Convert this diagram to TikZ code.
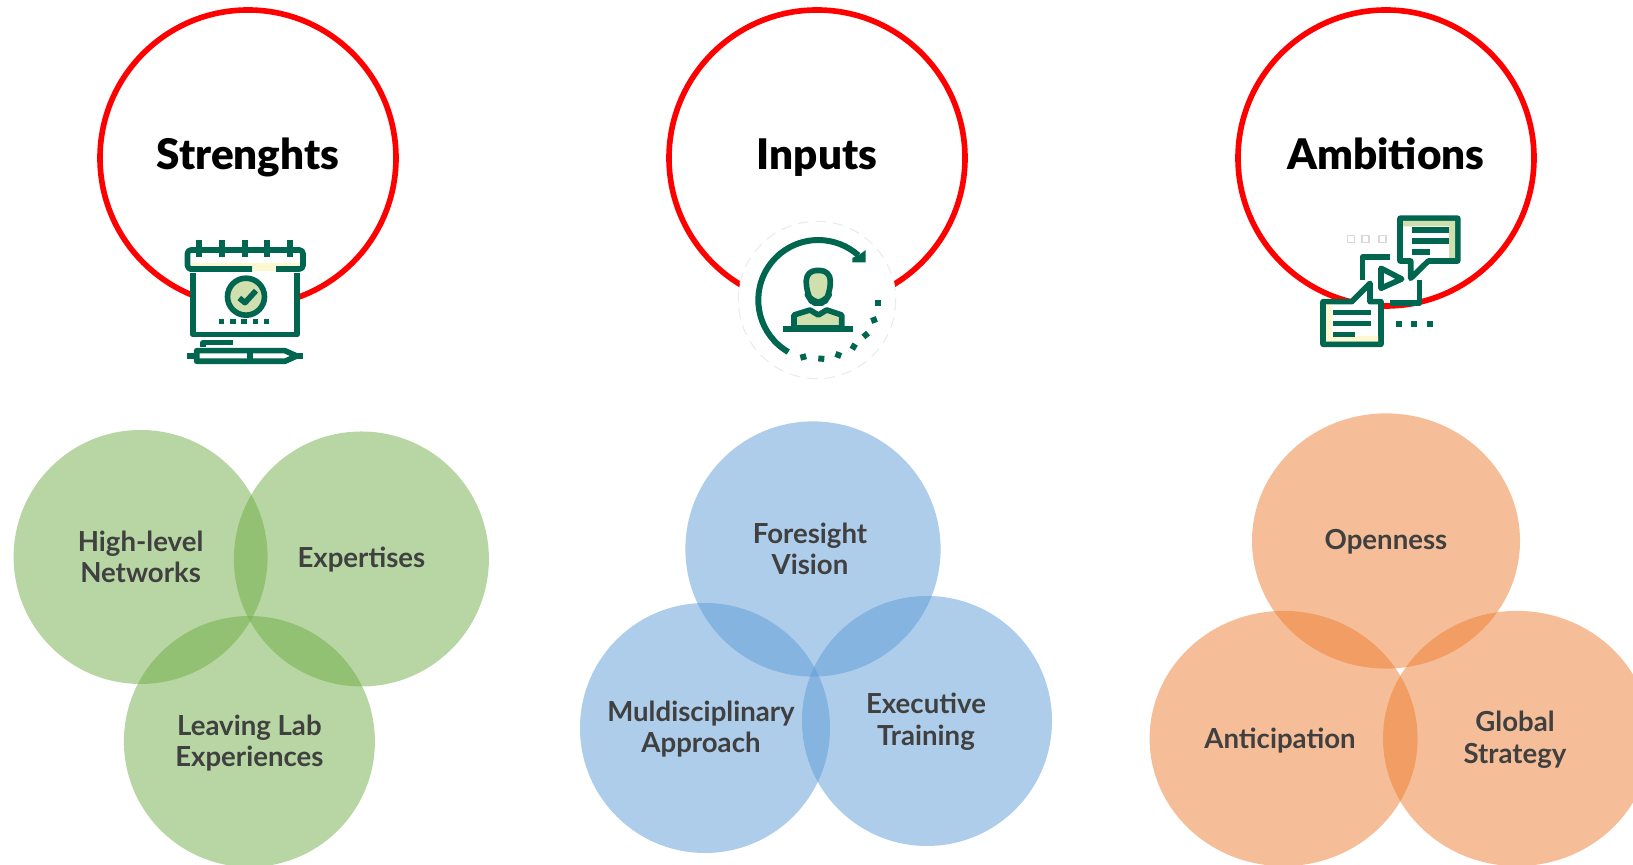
\documentclass[tikz,border=0pt]{standalone}
\usepackage{fontspec}
\setmainfont{Lato}
\newfontfamily\headfont{Lato Black}
\definecolor{ringred}{HTML}{FF0000}
\definecolor{icongreen}{HTML}{00664F}
\definecolor{palegreen}{HTML}{CFDFAE}
\definecolor{paleyellow}{HTML}{FDF8CF}
\definecolor{vennlabel}{HTML}{404040}
\definecolor{venngreen}{HTML}{70AD47}
\definecolor{vennblue}{HTML}{5B9BD5}
\definecolor{vennorange}{HTML}{ED7D31}
\tikzset{
	ring/.style={draw=ringred, line width=1.6pt, fill=white},
	heading/.style={font=\fontsize{12}{14}\headfont, text=black, text height=9pt, text depth=2.5pt},
	vennlab/.style={font=\fontsize{7.85}{9}\selectfont\bfseries, text=vennlabel, align=center},
	icon/.style={draw=icongreen, line width=1.6pt, line join=round},
	iconfill/.style={fill=icongreen, draw=none},
}
\begin{document}
\begin{tikzpicture}[x=0.01cm, y=-0.01cm]
	\useasboundingbox (0,0) rectangle (1633,865);

	% Red rings with headings
	\draw[ring] (248,158) circle [radius=148];
	\draw[ring] (817,158) circle [radius=148];
	\draw[ring] (1386,158) circle [radius=148];
	\node[heading] (strenghts) at (248,158) {Strenghts};
	\node[heading] (inputs) at (817,158) {Inputs};
	\node[heading] (ambitions) at (1386,158) {Ambitions};

	% Calendar icon
	\fill[white] (192,250) rectangle (298,335);
	\fill[white] (185,248) rectangle (305,272);
	\fill[paleyellow] (191,263) rectangle (299,267);
	\fill[paleyellow] (253,266) rectangle (275,271);
	\draw[icon] (252,269) -- (190,269) [rounded corners=1pt] -- (187.5,269) -- (187.5,250) -- (303,250) -- (303,269) [sharp corners] -- (276,269);
	\foreach \x in {199.3,222,244.7,267.3,290}
		\draw[icon] (\x,240) -- (\x,257);
	\draw[icon] (192.7,273) -- (192.7,334.5) -- (297.3,334.5) -- (297.3,273);
	\draw[icon, fill=palegreen] (246,296.7) circle [radius=18.5];
	\draw[icon] (239.3,298) -- (245,302.7) -- (256,290.7);
	\foreach \x in {221.7,233,244,255.3,266.7}
		\fill[iconfill] (\x-2.7,319) rectangle (\x+2.7,324.4);
	% Pen under the calendar
	\draw[icon] (203.3,346.7) -- (203.3,342.7) -- (233.3,342.7);
	\draw[icon] (196.7,350.7) -- (285,350.7) -- (296.7,356) -- (285,361.3) -- (196.7,361.3) -- cycle;
	\draw[icon] (186.7,356) -- (196.7,356);
	\draw[icon] (296.7,356) -- (302.7,356);
	\draw[icon] (250,350.7) -- (250,361.3);

	% Person icon on its white disc
	\draw[fill=white, draw=black!8, line width=0.3pt, densely dashed] (817,300) circle [radius=78.7];
	\draw[icon, line width=1.7pt] (788.3,352) arc [start angle=120, end angle=312, radius=60];
	\fill[iconfill] (865.7,250) -- (865.7,262.3) -- (852.3,262.3) -- (852.3,258) -- (859,255) -- cycle;
	\foreach \x/\y/\a in {877.7/302.7/0, 874/320/20, 865.7/335/40, 853.7/346.7/60, 838.3/355/70, 821.3/358.7/85, 803.3/357/105}
		\fill[iconfill, rotate around={\a:(\x,\y)}] (\x-3,\y-3) rectangle (\x+3,\y+3);
	\draw[icon, fill=palegreen] (794,328) -- (794,315) -- (810,310) -- (818.3,315) -- (826.7,310) -- (841.7,315) -- (841.7,328) -- cycle;
	\draw[icon, fill=palegreen, rounded corners=2.8pt] (806.3,270.5) -- (830.3,270.5) -- (830.3,293) -- (824,303) -- (812.5,303) -- (806.3,293) -- cycle;
	\draw[icon, line width=1.8pt] (783.3,329) -- (853.3,329);

	% Chat and play icon
	\foreach \x in {1351,1365.7,1382.3}
		\draw[draw=black!15, fill=white, line width=0.5pt] (\x-3.5,235.5) rectangle (\x+3.5,242.5);
	\draw[icon] (1390,257.3) -- (1362.3,257.3) -- (1362.3,280);
	\draw[icon] (1419.3,280) -- (1419.3,303.3) -- (1390,303.3);
	\draw[icon, fill=white] (1381,268.3) -- (1401.7,279) -- (1381,288.3) -- cycle;
	% Upper bubble
	\draw[icon, fill=white] (1400,218.3) -- (1457.7,218.3) -- (1457.7,261) -- (1428.3,261) -- (1410.7,278.3) -- (1410.7,261) -- (1400,261) -- cycle;
	\fill[palegreen] (1403,221) -- (1455,221) -- (1455,258) -- (1449,258) -- (1449,226.5) -- (1403,226.5) -- cycle;
	\foreach \y/\e in {230/1449, 241/1449, 252/1430}
		\draw[icon] (1411.7,\y) -- (\e,\y);
	% Lower bubble
	\draw[icon, fill=white] (1323,301.7) -- (1351.7,301.7) -- (1370,283.3) -- (1370,301.7) -- (1381,301.7) -- (1381,344.3) -- (1323,344.3) -- cycle;
	\fill[paleyellow] (1326,305) -- (1332,305) -- (1332,336) -- (1378,336) -- (1378,341.5) -- (1326,341.5) -- cycle;
	\foreach \y/\e in {312.7/1370.7, 323.7/1370.7, 334.7/1355}
		\draw[icon] (1333.3,\y) -- (\e,\y);
	\foreach \x in {1398.7,1414.3,1430}
		\fill[iconfill] (\x-3,321) rectangle (\x+3,327);

	% Green circles
	\fill[venngreen, fill opacity=0.5] (140.6,557) circle [radius=127];
	\fill[venngreen, fill opacity=0.5] (361.4,559) circle [radius=127.5];
	\fill[venngreen, fill opacity=0.5] (249.4,741.5) circle [radius=125.5];
	\node[vennlab] (networks) at (140.6,557) {High-level\\Networks};
	\node[vennlab] (expertises) at (361.4,560) {Expertises};
	\node[vennlab] (leavinglab) at (249.4,743) {Leaving Lab\\Experiences};

	% Blue circles
	\fill[vennblue, fill opacity=0.5] (813,549) circle [radius=127.6];
	\fill[vennblue, fill opacity=0.5] (705,728) circle [radius=125];
	\fill[vennblue, fill opacity=0.5] (927,721) circle [radius=125];
	\node[vennlab] (foresight) at (810,549) {Foresight\\Vision};
	\node[vennlab] (muldisciplinary) at (701,729) {Muldisciplinary\\Approach};
	\node[vennlab] (executive) at (926,722) {Executive\\Training};

	% Orange circles
	\fill[vennorange, fill opacity=0.5] (1386,541) circle [x radius=134, y radius=127.6];
	\fill[vennorange, fill opacity=0.5] (1283.6,738.5) circle [x radius=134, y radius=127.6];
	\fill[vennorange, fill opacity=0.5] (1517,738.5) circle [x radius=134, y radius=127.6];
	\node[vennlab] (openness) at (1386,542) {Openness};
	\node[vennlab] (anticipation) at (1280,741) {Anticipation};
	\node[vennlab] (globalstrategy) at (1515,740) {Global\\Strategy};
\end{tikzpicture}
\end{document}
